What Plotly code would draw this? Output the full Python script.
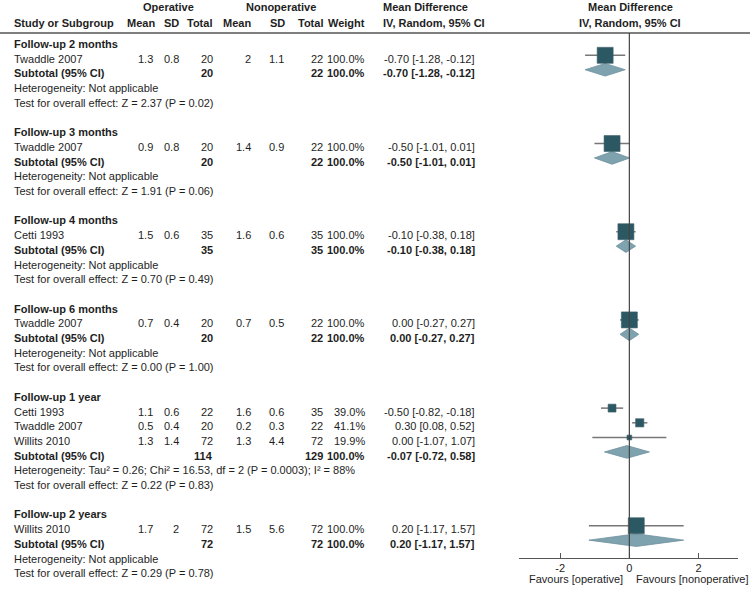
import plotly.graph_objects as go

# ---------------- data ----------------
group_titles = ["Follow-up 2 months", "Follow-up 3 months", "Follow-up 4 months",
                "Follow-up 6 months", "Follow-up 1 year", "Follow-up 2 years"]

study_group = [0, 1, 2, 3, 4, 4, 4, 5]
study_name = ["Twaddle 2007", "Twaddle 2007", "Cetti 1993", "Twaddle 2007",
              "Cetti 1993", "Twaddle 2007", "Willits 2010", "Willits 2010"]
op_mean = [1.3, 0.9, 1.5, 0.7, 1.1, 0.5, 1.3, 1.7]
op_sd = [0.8, 0.8, 0.6, 0.4, 0.6, 0.4, 1.4, 2]
op_n = [20, 20, 35, 20, 22, 20, 72, 72]
non_mean = [2, 1.4, 1.6, 0.7, 1.6, 0.2, 1.3, 1.5]
non_sd = [1.1, 0.9, 0.6, 0.5, 0.6, 0.3, 4.4, 5.6]
non_n = [22, 22, 35, 22, 35, 22, 72, 72]
weight = [100.0, 100.0, 100.0, 100.0, 39.0, 41.1, 19.9, 100.0]
md = [-0.70, -0.50, -0.10, 0.00, -0.50, 0.30, 0.00, 0.20]
md_lo = [-1.28, -1.01, -0.38, -0.27, -0.82, 0.08, -1.07, -1.17]
md_hi = [-0.12, 0.01, 0.18, 0.27, -0.18, 0.52, 1.07, 1.57]

sub_op_n = [20, 20, 35, 20, 114, 72]
sub_non_n = [22, 22, 35, 22, 129, 72]
sub_weight = [100.0, 100.0, 100.0, 100.0, 100.0, 100.0]
sub_md = [-0.70, -0.50, -0.10, 0.00, -0.07, 0.20]
sub_lo = [-1.28, -1.01, -0.38, -0.27, -0.72, -1.17]
sub_hi = [-0.12, 0.01, 0.18, 0.27, 0.58, 1.57]
heterogeneity = ["Not applicable", "Not applicable", "Not applicable", "Not applicable",
                 "Tau² = 0.26; Chi² = 16.53, df = 2 (P = 0.0003); I² = 88%", "Not applicable"]
overall_z = ["2.37", "1.91", "0.70", "0.00", "0.22", "0.29"]
overall_p = ["0.02", "0.06", "0.49", "1.00", "0.83", "0.78"]

axis_ticks = [-2, 0, 2]
axis_ticktext = ["-2", "0", "2"]
favours_left = "Favours [operative]"
favours_right = "Favours [nonoperative]"

# ---------------- layout constants ----------------
W, H = 750, 591
ROW0, ROWH = 44.0, 14.7
FONT = "Liberation Sans, Arial, sans-serif"
TXT = "#1e1e1e"
SQ_COL = "#2b5863"
DIA_COL = "#7fa2af"
CI_COL = "#777777"


def prow(px):
    return (px - ROW0) / ROWH


ann = []


def txt(xpx, row, s, anchor="left", bold=False, size=11):
    ann.append(dict(x=xpx / W, xref="paper", y=row, yref="y",
                    text=f"<b>{s}</b>" if bold else s, xanchor=anchor, yanchor="middle",
                    showarrow=False, font=dict(family=FONT, size=size, color=TXT)))


# column positions (px)
X_NAME = 12
X_M1, X_SD1, X_N1 = 155, 181, 215
X_M2, X_SD2, X_N2 = 253, 286, 325
X_W = 367
X_MD = 477
X_MDH = 381

# headers
txt(168, prow(7), "Operative", "center", True)
txt(281, prow(7), "Nonoperative", "center", True)
txt(X_MDH, prow(7), "Mean Difference", "left", True)
txt(630, prow(7), "Mean Difference", "center", True)
txt(X_NAME, prow(22.5), "Study or Subgroup", "left", True)
txt(157, prow(22.5), "Mean", "right", True)
txt(X_SD1, prow(22.5), "SD", "right", True)
txt(X_N1 - 1, prow(22.5), "Total", "right", True)
txt(X_M2, prow(22.5), "Mean", "right", True)
txt(X_SD2 + 1, prow(22.5), "SD", "right", True)
txt(X_N2, prow(22.5), "Total", "right", True)
txt(X_W, prow(22.5), "Weight", "right", True)
txt(X_MDH, prow(22.5), "IV, Random, 95% CI", "left", True)
txt(630, prow(22.5), "IV, Random, 95% CI", "center", True)

# body
ci_x, ci_y = [], []
sq_x, sq_y, sq_s = [], [], []
dia_x, dia_y = [], []
SQ_OFF = -0.23
DIA_OFF = -0.25
DIA_H = 0.43

row = 0
for g, title in enumerate(group_titles):
    txt(X_NAME, row, title, "left", True)
    row += 1
    for i in range(len(study_name)):
        if study_group[i] != g:
            continue
        txt(X_NAME, row, study_name[i])
        txt(X_M1, row, f"{op_mean[i]:g}", "right")
        txt(X_SD1, row, f"{op_sd[i]:g}", "right")
        txt(X_N1, row, f"{op_n[i]}", "right")
        txt(X_M2, row, f"{non_mean[i]:g}", "right")
        txt(X_SD2, row, f"{non_sd[i]:g}", "right")
        txt(X_N2, row, f"{non_n[i]}", "right")
        txt(X_W, row, f"{weight[i]:.1f}%", "right")
        txt(X_MD, row, f"{md[i]:.2f} [{md_lo[i]:.2f}, {md_hi[i]:.2f}]", "right")
        r = row + SQ_OFF
        ci_x += [md_lo[i], md_hi[i], None]
        ci_y += [r, r, None]
        sq_x.append(md[i])
        sq_y.append(r)
        sq_s.append(16 * (weight[i] / 100.0) ** 0.75)
        row += 1
    txt(X_NAME, row, "Subtotal (95% CI)", "left", True)
    txt(X_N1, row, f"{sub_op_n[g]}", "right", True)
    txt(X_N2, row, f"{sub_non_n[g]}", "right", True)
    txt(X_W, row, f"{sub_weight[g]:.1f}%", "right", True)
    txt(X_MD, row, f"{sub_md[g]:.2f} [{sub_lo[g]:.2f}, {sub_hi[g]:.2f}]", "right", True)
    r = row + DIA_OFF
    dia_x += [sub_lo[g], sub_md[g], sub_hi[g], sub_md[g], sub_lo[g], None]
    dia_y += [r, r - DIA_H, r, r + DIA_H, r, None]
    row += 1
    txt(X_NAME, row, f"Heterogeneity: {heterogeneity[g]}")
    row += 1
    txt(X_NAME, row, f"Test for overall effect: Z = {overall_z[g]} (P = {overall_p[g]})")
    row += 2

# favours labels
FAV_Y = 1 - 578.5 / H
ann.append(dict(x=625 / W, xref="paper", y=FAV_Y, yref="paper", text=favours_left,
                xanchor="right", yanchor="middle", showarrow=False,
                font=dict(family=FONT, size=11, color=TXT)))
ann.append(dict(x=634 / W, xref="paper", y=FAV_Y, yref="paper", text=favours_right,
                xanchor="left", yanchor="middle", showarrow=False,
                font=dict(family=FONT, size=11, color=TXT)))

fig = go.Figure()
fig.add_trace(go.Scatter(x=ci_x, y=ci_y, mode="lines", line=dict(color=CI_COL, width=1.5),
                         hoverinfo="skip"))
fig.add_trace(go.Scatter(x=dia_x, y=dia_y, mode="lines", fill="toself", fillcolor=DIA_COL,
                         line=dict(color="#6e919e", width=0.8), hoverinfo="skip"))
fig.add_trace(go.Scatter(x=sq_x, y=sq_y, mode="markers",
                         marker=dict(symbol="square", size=sq_s, color=SQ_COL, opacity=1,
                                     line=dict(color="#3f626a", width=0.6)),
                         hoverinfo="skip"))

AXIS_PX = 558
shapes = [
    dict(type="line", xref="paper", yref="paper", x0=0, x1=1, y0=1 - 33 / H, y1=1 - 33 / H,
         line=dict(color="#555555", width=1.6)),
    dict(type="line", xref="x", yref="paper", x0=0, x1=0, y0=1 - AXIS_PX / H, y1=1 - 33 / H,
         line=dict(color="#444444", width=1.2)),
]

fig.update_layout(
    width=W, height=H, margin=dict(l=0, r=0, t=0, b=0),
    paper_bgcolor="white", plot_bgcolor="white", showlegend=False,
    annotations=ann, shapes=shapes,
    xaxis=dict(domain=[519 / W, 738 / W], range=[-3.19, 3.14], anchor="free",
               position=1 - AXIS_PX / H, showline=True, linecolor="#555555", linewidth=1.2,
               ticks="inside", ticklen=5, tickcolor="#555555", tickwidth=1.2,
               tickvals=axis_ticks, ticktext=axis_ticktext,
               tickfont=dict(family=FONT, size=11, color=TXT),
               showgrid=False, zeroline=False, fixedrange=True),
    yaxis=dict(domain=[0, 1], range=[prow(H), prow(0)], visible=False,
               showgrid=False, zeroline=False, fixedrange=True),
)

fig.write_html("out.html")
